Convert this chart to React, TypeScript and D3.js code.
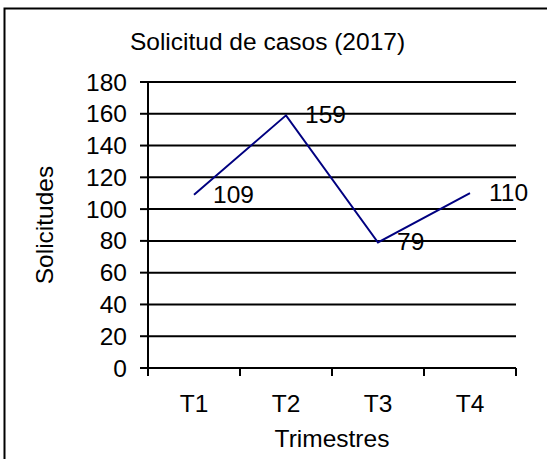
import React from "react";
import * as d3 from "d3";

const categories: string[] = ["T1", "T2", "T3", "T4"];
const values: number[] = [109, 159, 79, 110];
const yTicks: number[] = [0, 20, 40, 60, 80, 100, 120, 140, 160, 180];
const title = "Solicitud de casos (2017)";
const xTitle = "Trimestres";
const yTitle = "Solicitudes";

const W = 547;
const H = 459;
const left = 148;
const right = 516;
const top = 82;
const bottom = 368;
const font = "'Liberation Sans', Arial, sans-serif";
const fs = 24.5;

export default function App() {
  const x = d3.scaleBand<string>().domain(categories).range([left, right]);
  const y = d3.scaleLinear().domain([0, 180]).range([bottom, top]);
  const cx = (c: string) => (x(c) as number) + x.bandwidth() / 2;
  const line = d3
    .line<number>()
    .x((_, i) => cx(categories[i]))
    .y((d) => y(d));
  const boundaries = categories.map((c) => x(c) as number).concat([right]);

  return (
    <svg
      width={W}
      height={H}
      style={{ position: "absolute", left: 0, top: 0, display: "block", background: "#fff" }}
      fontFamily={font}
    >
      <rect x={4.5} y={8.5} width={W + 10} height={H + 10} fill="#fff" stroke="#000" strokeWidth={2} />
      <text x={267.5} y={50} textAnchor="middle" fontSize={fs} fill="#000">
        {title}
      </text>
      {yTicks.map((t) => (
        <g key={t}>
          {t > 0 && (
            <line x1={left} x2={right} y1={y(t)} y2={y(t)} stroke="#000" strokeWidth={2} />
          )}
          <line x1={140} x2={left} y1={y(t)} y2={y(t)} stroke="#000" strokeWidth={2} />
          <text x={127} y={y(t) + 8.5} textAnchor="end" fontSize={fs} fill="#000">
            {t}
          </text>
        </g>
      ))}
      <line x1={left} x2={left} y1={top} y2={bottom} stroke="#000" strokeWidth={2} />
      <line x1={left} x2={right} y1={bottom} y2={bottom} stroke="#000" strokeWidth={2} />
      {boundaries.map((b, i) => (
        <line key={i} x1={b} x2={b} y1={bottom} y2={bottom + 8} stroke="#000" strokeWidth={2} />
      ))}
      {categories.map((c) => (
        <text key={c} x={cx(c)} y={412} textAnchor="middle" fontSize={fs} fill="#000">
          {c}
        </text>
      ))}
      <text x={332} y={447} textAnchor="middle" fontSize={fs} fill="#000">
        {xTitle}
      </text>
      <text
        transform={`translate(53,225) rotate(-90)`}
        textAnchor="middle"
        fontSize={fs}
        fill="#000"
      >
        {yTitle}
      </text>
      <path d={line(values) || ""} fill="none" stroke="#000080" strokeWidth={2} />
      {values.map((v, i) => (
        <text key={i} x={cx(categories[i]) + 19} y={y(v) + 8} fontSize={fs} fill="#000">
          {v}
        </text>
      ))}
    </svg>
  );
}
